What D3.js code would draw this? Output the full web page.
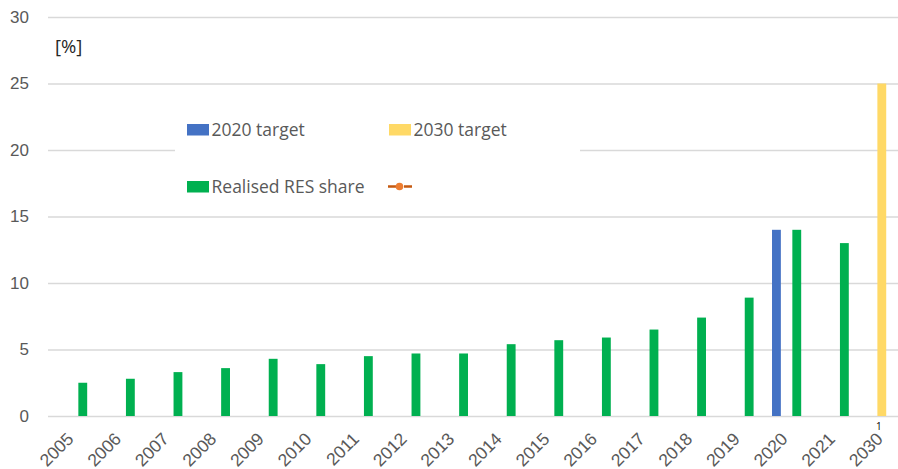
<!DOCTYPE html>
<html>
<head>
<meta charset="utf-8">
<script src="https://cdn.jsdelivr.net/npm/d3@7"></script>
<style>
  body { margin: 0; background: #fff; }
  svg { display: block; font-family: "Open Sans", sans-serif; }
</style>
</head>
<body>
<svg id="chart" width="898" height="469"></svg>
<script>
var years = ["2005", "2006", "2007", "2008", "2009", "2010", "2011", "2012", "2013",
  "2014", "2015", "2016", "2017", "2018", "2019", "2020", "2021", "2030"];
var target2020 = [null, null, null, null, null, null, null, null, null,
  null, null, null, null, null, null, 14.0, null, null];
var target2030 = [null, null, null, null, null, null, null, null, null,
  null, null, null, null, null, null, null, null, 25.0];
var realised = [2.5, 2.8, 3.3, 3.6, 4.3, 3.9, 4.5, 4.7, 4.7,
  5.4, 5.7, 5.9, 6.5, 7.4, 8.9, 14.0, 13.0, null];
var yTicks = [0, 5, 10, 15, 20, 25, 30];
var seriesNames = ["2020 target", "2030 target", "Realised RES share"];
var seriesColors = ["#4472C4", "#FFD966", "#00B050"];

var svg = d3.select("#chart"),
  W = 898,
  MARGINS = { top: 17, bottom: 53, left: 48 },
  step = 47.6;

var xScale0 = d3.scaleBand()
  .domain(years)
  .range([MARGINS.left + 0.8, MARGINS.left + 0.8 + step * years.length])
  .padding(0);

var xScale1 = d3.scaleBand()
  .domain(d3.range(3))
  .range([-15.3, 15.3])
  .paddingInner(0.13)
  .paddingOuter(0.07);

var yScale = d3.scaleLinear()
  .domain([0, 30])
  .range([416, 17]);

// gridlines + tick labels
var yAxis = d3.axisLeft(yScale)
  .tickValues(yTicks)
  .tickSize(-(W - MARGINS.left))
  .tickPadding(19);

var gy = svg.append("g")
  .attr("transform", "translate(" + MARGINS.left + ",0)")
  .call(yAxis);
gy.select(".domain").remove();
gy.selectAll(".tick line")
  .attr("stroke", "#d9d9d9")
  .attr("stroke-width", 1.3);
gy.selectAll(".tick text")
  .attr("fill", "#595959")
  .style("font-size", "17px");

// legend background hides part of the 20 gridline
svg.append("rect")
  .attr("x", 175)
  .attr("y", 92)
  .attr("width", 405)
  .attr("height", 116)
  .attr("fill", "#fff");

svg.append("text")
  .attr("x", 55)
  .attr("y", 53)
  .attr("fill", "#262626")
  .style("font-size", "18.5px")
  .text("[%]");

var table = years.map(function(y, i) {
  return { year: y, values: [target2020[i], target2030[i], realised[i]] };
});

var groups = svg.selectAll(".grp")
  .data(table)
  .enter().append("g")
  .attr("class", "grp")
  .attr("transform", function(d) {
    return "translate(" + (xScale0(d.year) + xScale0.bandwidth() / 2) + ",0)";
  });

groups.selectAll("rect")
  .data(function(d) {
    return d.values.map(function(v, i) { return { v: v, s: i }; })
      .filter(function(e) { return e.v !== null; });
  })
  .enter().append("rect")
  .attr("x", function(d) { return xScale1(d.s); })
  .attr("width", xScale1.bandwidth())
  .attr("y", function(d) { return yScale(d.v); })
  .attr("height", function(d) { return yScale(0) - yScale(d.v); })
  .attr("fill", function(d) { return seriesColors[d.s]; });

// x labels, rotated
var xAxis = d3.axisBottom(xScale0).tickSize(0).tickPadding(0);
var gx = svg.append("g")
  .attr("transform", "translate(0," + yScale(0) + ")")
  .call(xAxis);
gx.select(".domain").remove();
gx.selectAll(".tick text")
  .attr("fill", "#595959")
  .style("font-size", "17.5px")
  .style("text-anchor", "end")
  .attr("dy", null)
  .attr("y", null)
  .attr("transform", "translate(2,24) rotate(-45)");

svg.append("text")
  .attr("x", xScale0("2030") + xScale0.bandwidth() / 2 - 3)
  .attr("y", 430)
  .attr("text-anchor", "middle")
  .attr("fill", "#000")
  .style("font-size", "10px")
  .text("1");

// legend
var legendItems = [
  { name: seriesNames[0], color: seriesColors[0], x: 187, y: 124 },
  { name: seriesNames[1], color: seriesColors[1], x: 389, y: 124 },
  { name: seriesNames[2], color: seriesColors[2], x: 187, y: 181 }
];
legendItems.forEach(function(l) {
  svg.append("rect")
    .attr("x", l.x)
    .attr("y", l.y)
    .attr("width", 22)
    .attr("height", 11.5)
    .attr("fill", l.color);
  svg.append("text")
    .attr("x", l.x + 24.5)
    .attr("y", l.y + 12)
    .attr("fill", "#595959")
    .style("font-size", "17.5px")
    .text(l.name);
});

svg.append("line")
  .attr("x1", 388)
  .attr("x2", 412)
  .attr("y1", 186.5)
  .attr("y2", 186.5)
  .attr("stroke", "#C55A11")
  .attr("stroke-width", 2.5)
  .attr("stroke-dasharray", "8,8");
svg.append("circle")
  .attr("cx", 399.5)
  .attr("cy", 186.5)
  .attr("r", 3.8)
  .attr("fill", "#ED7D31");
</script>
</body>
</html>
